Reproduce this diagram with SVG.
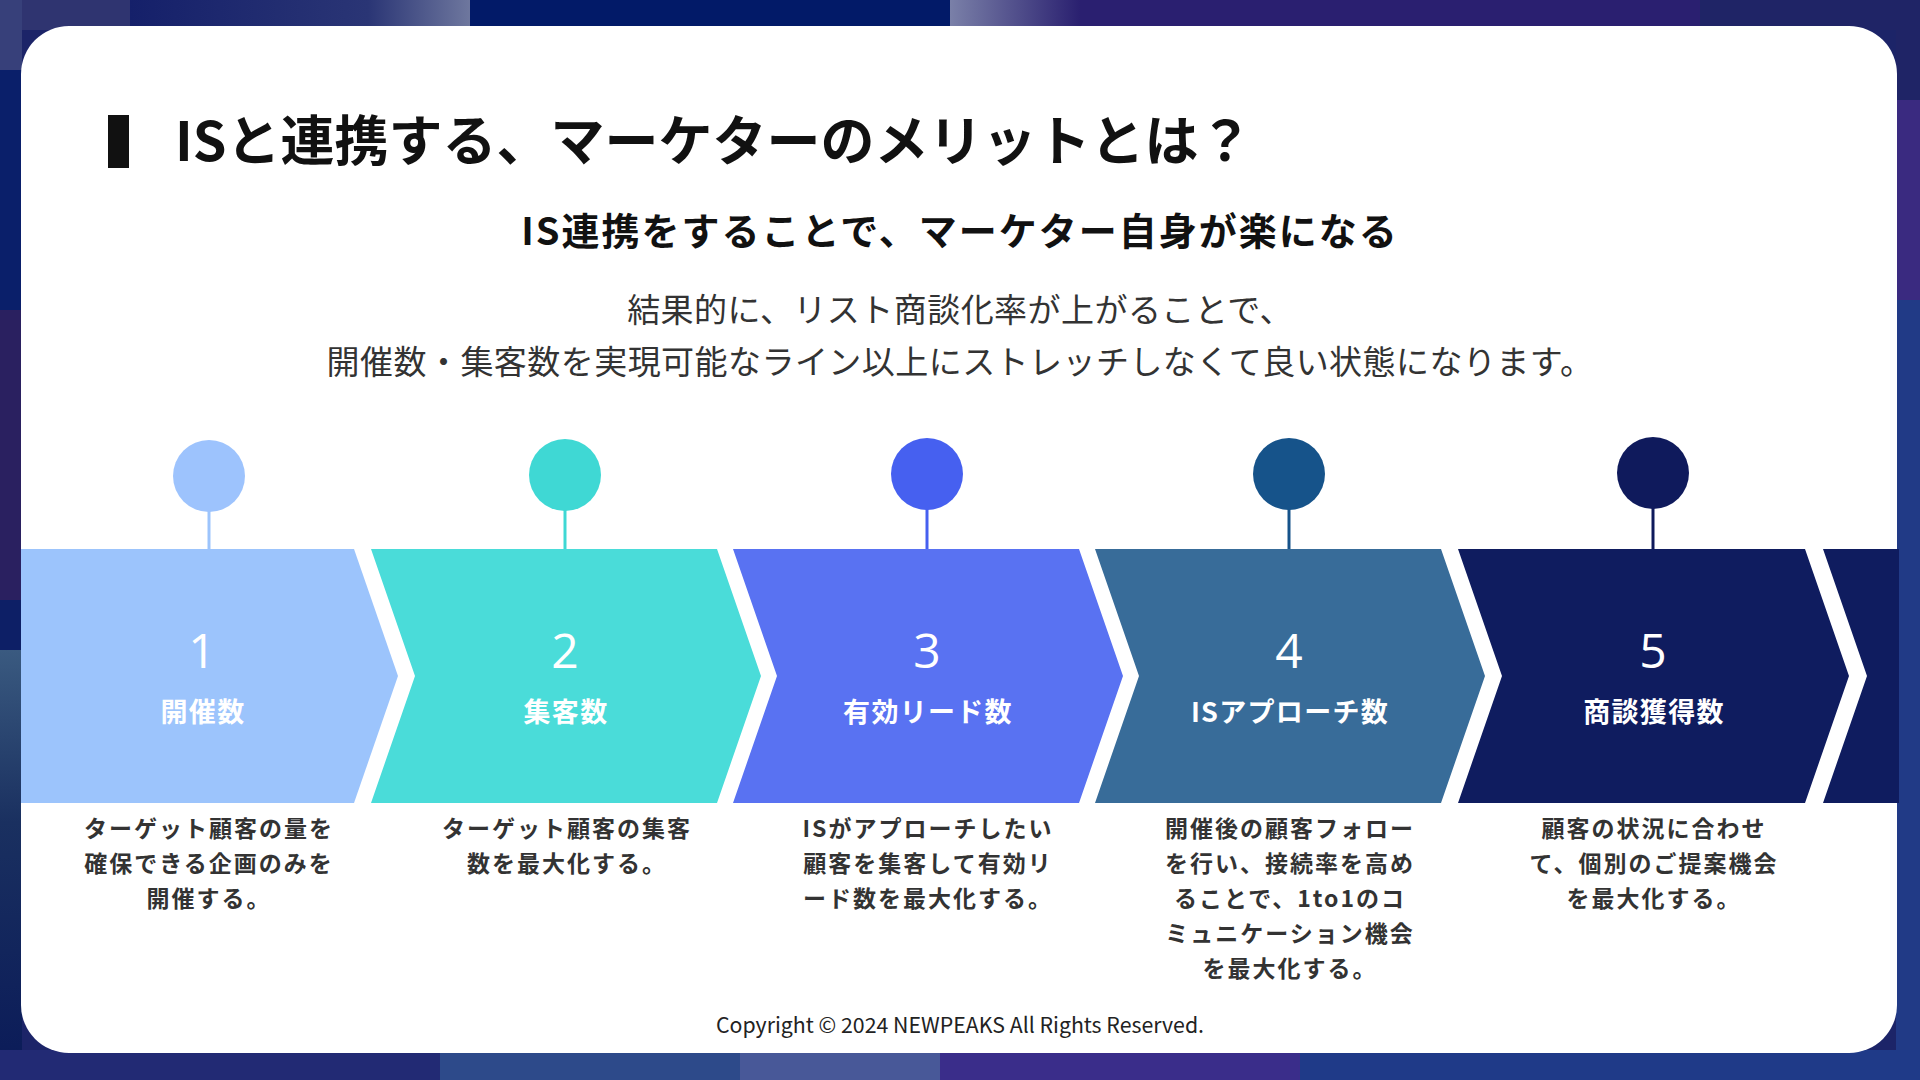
<svg xmlns="http://www.w3.org/2000/svg" width="1920" height="1080" viewBox="0 0 1920 1080">
<defs>
<style>
.jp{font-family:"Noto Sans CJK JP","Noto Sans",sans-serif;}
.title{font-size:54px;font-weight:700;fill:#111;}
.sub{font-size:38px;font-weight:700;fill:#111;letter-spacing:2px;}
.body{font-size:33px;font-weight:400;fill:#333;letter-spacing:0.45px;}
.num{font-family:"Open Sans","Noto Sans",sans-serif;font-size:48px;font-weight:400;fill:#fff;text-anchor:middle;}
.lbl{font-size:27px;font-weight:700;fill:#fff;text-anchor:middle;letter-spacing:1.3px;}
.desc{font-size:23px;font-weight:700;fill:#333;text-anchor:middle;letter-spacing:2px;}
.copy{font-size:21.3px;font-weight:400;fill:#222;text-anchor:middle;}
.stem{stroke-width:3;}
</style>
<linearGradient id="gTopL" x1="0" x2="1" y1="0" y2="0">
<stop offset="0" stop-color="#15206a"/><stop offset="0.7" stop-color="#2a3575"/><stop offset="1" stop-color="#6e779e"/>
</linearGradient>
<linearGradient id="gTopM" x1="0" x2="1" y1="0" y2="0">
<stop offset="0" stop-color="#7a80a8"/><stop offset="1" stop-color="#2a2070"/>
</linearGradient>
<linearGradient id="gLeft" x1="0" x2="0" y1="0" y2="1">
<stop offset="0" stop-color="#3a5a80"/><stop offset="0.4" stop-color="#1a3060"/><stop offset="1" stop-color="#0a1a58"/>
</linearGradient>
</defs>

<g id="background">
<rect x="0" y="0" width="1920" height="1080" fill="#1c2468"/>
<rect x="0" y="0" width="130" height="30" fill="#2f3470"/>
<rect x="130" y="0" width="340" height="30" fill="url(#gTopL)"/>
<rect x="470" y="0" width="480" height="30" fill="#021a68"/>
<rect x="950" y="0" width="130" height="30" fill="url(#gTopM)"/>
<rect x="1080" y="0" width="620" height="30" fill="#2a1f70"/>
<rect x="1700" y="0" width="220" height="30" fill="#1f2466"/>
<rect x="0" y="0" width="22" height="70" fill="#37407a"/>
<rect x="0" y="70" width="22" height="240" fill="#0a1f6a"/>
<rect x="0" y="310" width="22" height="290" fill="#2a2060"/>
<rect x="0" y="600" width="22" height="50" fill="#0d1f66"/>
<rect x="0" y="650" width="22" height="430" fill="url(#gLeft)"/>
<rect x="1896" y="0" width="24" height="100" fill="#1f2466"/>
<rect x="1896" y="100" width="24" height="200" fill="#3a2a80"/>
<rect x="1896" y="300" width="24" height="780" fill="#213a86"/>
<rect x="0" y="1050" width="440" height="30" fill="#222a74"/>
<rect x="440" y="1050" width="300" height="30" fill="#2d4a8a"/>
<rect x="740" y="1050" width="200" height="30" fill="#485898"/>
<rect x="940" y="1050" width="360" height="30" fill="#3a2d8a"/>
<rect x="1300" y="1050" width="620" height="30" fill="#1f3a88"/>
</g>

<g id="card">
<rect x="21" y="26" width="1876" height="1027" rx="48" ry="48" fill="#fff"/>
</g>

<g id="heading">
<rect x="108" y="115" width="21" height="53" fill="#111"/>
<text class="jp title" x="175" y="161">ISと連携する、マーケターのメリットとは？</text>
<text class="jp sub" x="960" y="245" text-anchor="middle">IS連携をすることで、マーケター自身が楽になる</text>
<text class="jp body" x="960" y="322" text-anchor="middle">結果的に、リスト商談化率が上がることで、</text>
<text class="jp body" x="960" y="374" text-anchor="middle">開催数・集客数を実現可能なライン以上にストレッチしなくて良い状態になります。</text>
</g>

<g id="connectors">
<line class="stem" x1="209" y1="510" x2="209" y2="549" stroke="#9cc4fc"/>
<line class="stem" x1="565" y1="509" x2="565" y2="549" stroke="#3fd8d4"/>
<line class="stem" x1="927" y1="508" x2="927" y2="549" stroke="#4660f0"/>
<line class="stem" x1="1289" y1="508" x2="1289" y2="549" stroke="#16538a"/>
<line class="stem" x1="1653" y1="507" x2="1653" y2="549" stroke="#0f1a5c"/>
</g>

<g id="step1">
<polygon points="21,549 354,549 398,676 354,803 21,803" fill="#9cc4fc"/>
<circle cx="209" cy="476" r="36" fill="#9dc3fd"/>
<text class="num" x="202" y="668">1</text>
<text class="jp lbl" x="203" y="722">開催数</text>
<text class="jp desc" x="209" y="837">ターゲット顧客の量を</text>
<text class="jp desc" x="209" y="872">確保できる企画のみを</text>
<text class="jp desc" x="209" y="907">開催する。</text>
</g>

<g id="step2">
<polygon points="371,549 717,549 761,676 717,803 371,803 415,676" fill="#4adcd9"/>
<circle cx="565" cy="475" r="36" fill="#3fd8d4"/>
<text class="num" x="565" y="668">2</text>
<text class="jp lbl" x="566" y="722">集客数</text>
<text class="jp desc" x="567" y="837">ターゲット顧客の集客</text>
<text class="jp desc" x="567" y="872">数を最大化する。</text>
</g>

<g id="step3">
<polygon points="733,549 1079,549 1123,676 1079,803 733,803 777,676" fill="#5972f2"/>
<circle cx="927" cy="474" r="36" fill="#4660f0"/>
<text class="num" x="927" y="668">3</text>
<text class="jp lbl" x="928" y="722">有効リード数</text>
<text class="jp desc" x="928" y="837">ISがアプローチしたい</text>
<text class="jp desc" x="928" y="872">顧客を集客して有効リ</text>
<text class="jp desc" x="928" y="907">ード数を最大化する。</text>
</g>

<g id="step4">
<polygon points="1095,549 1441,549 1485,676 1441,803 1095,803 1139,676" fill="#386c99"/>
<circle cx="1289" cy="474" r="36" fill="#16538a"/>
<text class="num" x="1289" y="668">4</text>
<text class="jp lbl" x="1290" y="722">ISアプローチ数</text>
<text class="jp desc" x="1290" y="837">開催後の顧客フォロー</text>
<text class="jp desc" x="1290" y="872">を行い、接続率を高め</text>
<text class="jp desc" x="1290" y="907">ることで、1to1のコ</text>
<text class="jp desc" x="1290" y="942">ミュニケーション機会</text>
<text class="jp desc" x="1290" y="977">を最大化する。</text>
</g>

<g id="step5">
<polygon points="1458,549 1805,549 1849,676 1805,803 1458,803 1502,676" fill="#0f1c5f"/>
<circle cx="1653" cy="473" r="36" fill="#0f1a5c"/>
<text class="num" x="1653" y="668">5</text>
<text class="jp lbl" x="1654" y="722">商談獲得数</text>
<text class="jp desc" x="1654" y="837">顧客の状況に合わせ</text>
<text class="jp desc" x="1654" y="872">て、個別のご提案機会</text>
<text class="jp desc" x="1654" y="907">を最大化する。</text>
</g>

<g id="step6">
<polygon points="1823,549 1899,549 1899,803 1823,803 1867,676" fill="#0f1c5f"/>
</g>

<g id="footer">
<text class="jp copy" x="960" y="1033">Copyright © 2024 NEWPEAKS All Rights Reserved.</text>
</g>
</svg>
